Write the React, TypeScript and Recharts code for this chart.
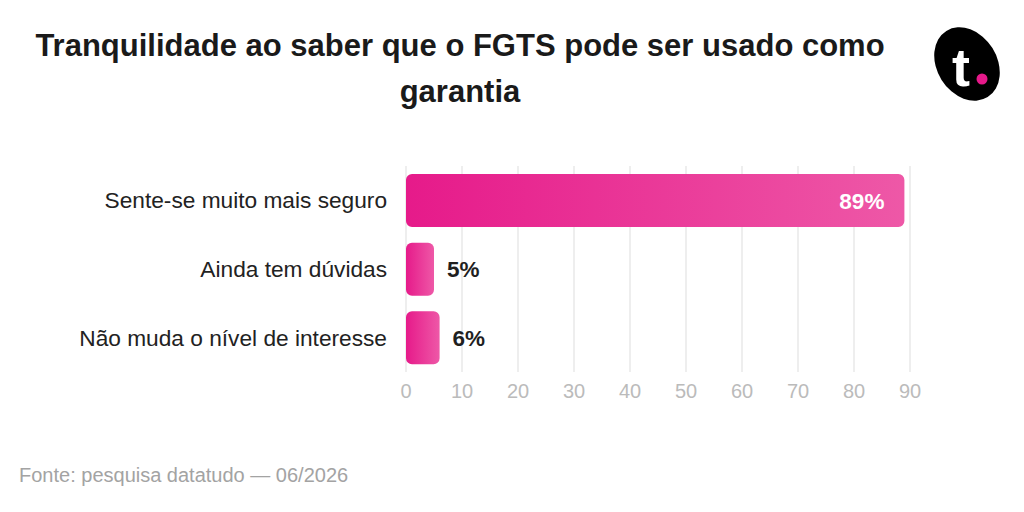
import { Bar, BarChart, CartesianGrid, LabelList, XAxis, YAxis } from 'recharts';

const categories = ['Sente-se muito mais seguro', 'Ainda tem dúvidas', 'Não muda o nível de interesse'];
const percentValues = [89, 5, 6];
const xTicks = [0, 10, 20, 30, 40, 50, 60, 70, 80, 90];

const data = categories.map((name, i) => ({ name, value: percentValues[i] }));

const FONT = '"Liberation Sans", Arial, sans-serif';

function ValueLabel(props: any) {
  const { x, y, width, height, value } = props;
  const inside = value > 20;
  return (
    <text
      x={inside ? x + width - 20 : x + width + 13}
      y={y + height / 2}
      dy="0.36em"
      textAnchor={inside ? 'end' : 'start'}
      fill={inside ? '#ffffff' : '#1f1f1f'}
      fontSize={22.5}
      fontWeight={700}
      fontFamily={FONT}
    >
      {value}%
    </text>
  );
}

function Logo() {
  return (
    <svg width={80} height={90} viewBox="0 0 80 90" style={{ position: 'absolute', left: 927, top: 19 }}>
      <ellipse cx={40} cy={45} rx={30} ry={39} transform="rotate(-32 40 45)" fill="#000" />
      <text x={34} y={67} textAnchor="middle" fill="#fff" fontSize={54} fontWeight={700} fontFamily={FONT}>
        t
      </text>
      <circle cx={55} cy={60} r={5.5} fill="#e6198a" />
    </svg>
  );
}

export default function App() {
  return (
    <div style={{ position: 'absolute', left: 0, top: 0, width: 1024, height: 512, background: '#fff', fontFamily: FONT }}>
      <div
        style={{
          position: 'absolute',
          left: 0,
          top: 23,
          width: 920,
          textAlign: 'center',
          fontSize: 31,
          fontWeight: 700,
          lineHeight: '46px',
          color: '#1a1a1a',
        }}
      >
        Tranquilidade ao saber que o FGTS pode ser usado como
        <br />
        garantia
      </div>
      <Logo />
      <div style={{ position: 'absolute', left: 0, top: 0 }}>
        <BarChart
          width={1024}
          height={512}
          data={data}
          layout="vertical"
          margin={{ top: 166, right: 114, left: 0, bottom: 110 }}
        >
          <defs>
            <linearGradient id="barGrad" x1="0" y1="0" x2="1" y2="0">
              <stop offset="0%" stopColor="#e61a8a" />
              <stop offset="100%" stopColor="#ee58a7" />
            </linearGradient>
          </defs>
          <CartesianGrid horizontal={false} stroke="#e8e8e8" strokeWidth={1.5} />
          <XAxis
            type="number"
            domain={[0, 90]}
            ticks={xTicks}
            height={30}
            axisLine={false}
            tickLine={false}
            tickMargin={6}
            tick={{ fill: '#bbbbbb', fontSize: 20, fontFamily: FONT }}
          />
          <YAxis
            type="category"
            dataKey="name"
            width={406}
            axisLine={false}
            tickLine={false}
            tickSize={0}
            tickMargin={19}
            tick={{ fill: '#222222', fontSize: 22.7, fontFamily: FONT }}
          />
          <Bar dataKey="value" fill="url(#barGrad)" barSize={53} radius={6} isAnimationActive={false}>
            <LabelList dataKey="value" content={ValueLabel} />
          </Bar>
        </BarChart>
      </div>
      <div style={{ position: 'absolute', left: 19, top: 464, fontSize: 20, color: '#a3a3a3' }}>
        Fonte: pesquisa datatudo — 06/2026
      </div>
    </div>
  );
}
